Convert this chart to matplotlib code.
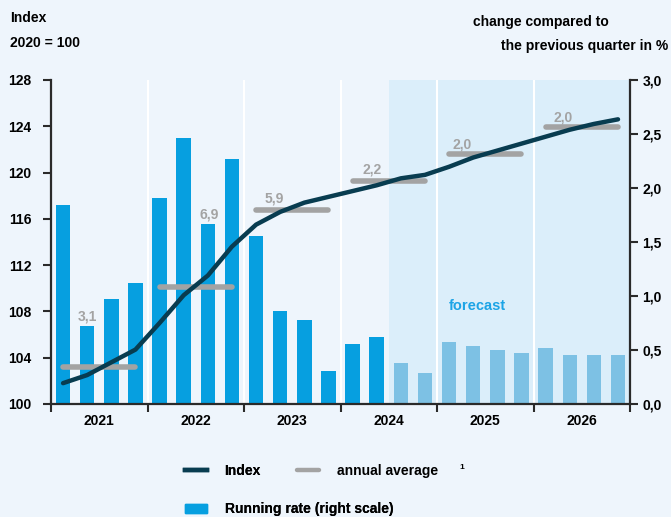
import numpy as np
import matplotlib.pyplot as plt
from matplotlib.lines import Line2D
from matplotlib.patches import Patch

plt.rcParams['font.family'] = ['Liberation Sans', 'DejaVu Sans']
plt.rcParams['font.weight'] = 'bold'

years = ['2021', '2022', '2023', '2024', '2025', '2026']

# quarterly index, 2020 = 100
index_q = [101.8, 102.5, 103.6, 104.7, 107.0, 109.4, 111.1, 113.6,
           115.5, 116.6, 117.4, 117.9, 118.4, 118.9, 119.5, 119.8,
           120.5, 121.3, 121.9, 122.5, 123.1, 123.7, 124.2, 124.6]

# change vs previous quarter in %
rate_q = [1.84, 0.72, 0.97, 1.12, 1.91, 2.46, 1.67, 2.27,
          1.56, 0.86, 0.78, 0.31, 0.56, 0.62, 0.38, 0.29,
          0.57, 0.54, 0.50, 0.47, 0.52, 0.45, 0.45, 0.45]

# annual averages (level on index scale, label = growth in %)
avg_level = [103.2, 110.15, 116.8, 119.25, 121.6, 123.95]
avg_label = ['3,1', '6,9', '5,9', '2,2', '2,0', '2,0']

forecast_start = 14  # first forecast quarter (Q3 2024)

# label placement per year: x offset in quarters from year start, y level
lab_x = [1.0, 2.05, 0.75, 0.8, 0.55, 0.72]
lab_y = [107.6, 116.4, 117.8, 120.3, 122.4, 124.75]

bg = '#eef5fc'
c_bar = '#069fe0'
c_bar_fc = '#7dc1e4'
c_line = '#083c50'
c_avg = '#a3a3a3'
c_axis = '#2a2a2a'

fig = plt.figure(figsize=(6.71, 5.17), dpi=100)
fig.patch.set_facecolor(bg)
ax = fig.add_axes([0.076, 0.2186, 0.863, 0.6267])
axr = ax.twinx()
ax.set_zorder(axr.get_zorder() + 1)
ax.patch.set_visible(False)
axr.set_facecolor(bg)

x = np.arange(len(rate_q))
n = len(x)

# forecast shading + year separators
axr.axvspan(forecast_start - 0.5, n - 0.5, color='#dbeefa', lw=0, zorder=0)
for b in range(4, n, 4):
    axr.axvline(b - 0.5, color='white', lw=1.5, zorder=0.5)

colors = [c_bar if i < forecast_start else c_bar_fc for i in x]
axr.bar(x, rate_q, width=0.6, color=colors, zorder=1)
axr.set_ylim(0, 3.0)
axr.set_yticks(np.arange(0, 3.01, 0.5))
axr.set_yticklabels([f'{v:.1f}'.replace('.', ',') for v in np.arange(0, 3.01, 0.5)])

# annual averages
for i, (lvl, lab) in enumerate(zip(avg_level, avg_label)):
    ax.plot([4 * i, 4 * i + 3], [lvl, lvl], color=c_avg, lw=4,
            solid_capstyle='round', zorder=2)
    ax.text(4 * i + lab_x[i], lab_y[i], lab, color=c_avg, fontsize=10,
            ha='center', va='center', fontweight='bold')

ax.plot(x, index_q, color=c_line, lw=3.2, solid_joinstyle='round',
        solid_capstyle='round', zorder=3)
ax.set_ylim(100, 128)
ax.set_yticks(range(100, 129, 4))
ax.set_xlim(-0.5, n - 0.5)

ax.text(17.15, 108.5, 'forecast', color='#1ca4e6', fontsize=10.5,
        ha='center', va='center', fontweight='bold')

# year ticks at boundaries, labels in the middle
ax.set_xticks(np.arange(-0.5, n, 4))
ax.set_xticklabels([])
ax.set_xticks(np.arange(1.5, n, 4), minor=True)
ax.set_xticklabels(years, minor=True)
ax.tick_params(axis='x', which='minor', length=0, pad=7, labelsize=10)
ax.tick_params(axis='x', which='major', length=6, width=1.5, color=c_axis, direction='out')

for a in (ax, axr):
    for s in a.spines.values():
        s.set_visible(False)
ax.spines['left'].set_visible(True)
ax.spines['bottom'].set_visible(True)
axr.spines['right'].set_visible(True)
for s in (ax.spines['left'], ax.spines['bottom'], axr.spines['right']):
    s.set_color(c_axis)
    s.set_linewidth(1.6)
ax.tick_params(axis='y', length=6, width=1.5, color=c_axis, labelsize=10, pad=8)
axr.tick_params(axis='y', length=6, width=1.5, color=c_axis, labelsize=10, pad=3)

# headers
fig.text(0.015, 0.965, 'Index', fontsize=10, ha='left', va='center')
fig.text(0.015, 0.917, '2020 = 100', fontsize=10, ha='left', va='center')
fig.text(0.705, 0.957, 'change compared to', fontsize=10, ha='left', va='center')
fig.text(0.996, 0.911, 'the previous quarter in %', fontsize=10, ha='right', va='center')

# legend: two pieces so the grey entry sits next to "Index"
leg_kw = dict(frameon=False, fontsize=10, handlelength=1.55, handleheight=0.7,
              handletextpad=1.3, borderpad=0, borderaxespad=0)
leg1 = fig.legend([Line2D([], [], color=c_line, lw=3.2), Patch(color=c_bar)],
                  ['Index', 'Running rate (right scale)'],
                  loc='center left', bbox_to_anchor=(0.2757, 0.052),
                  labelspacing=1.75, **leg_kw)
fig.legend([Line2D([], [], color=c_avg, lw=3.2, solid_capstyle='round')],
           ['annual average'], loc='center left', bbox_to_anchor=(0.4426, 0.089),
           **leg_kw)
fig.add_artist(leg1)
fig.text(0.684, 0.095, '1', fontsize=6, ha='left', va='center')

fig.savefig('out.png', dpi=100, facecolor=bg)
